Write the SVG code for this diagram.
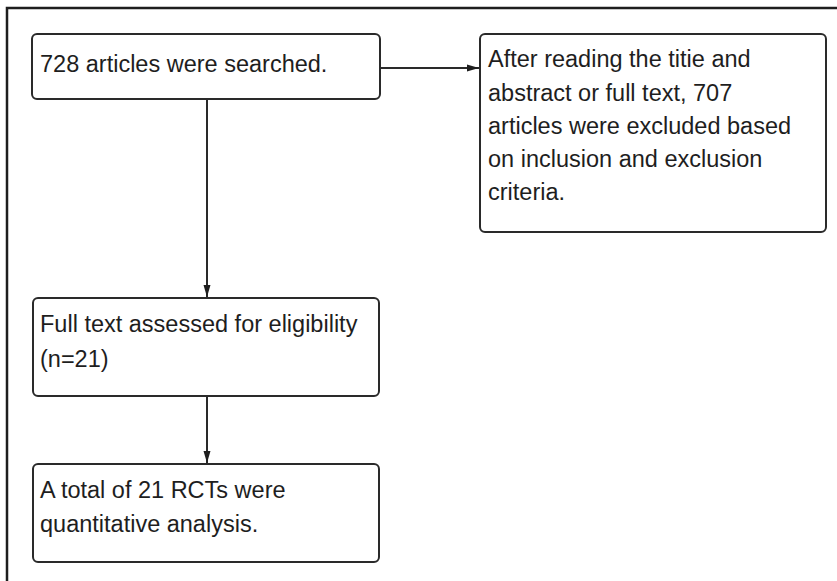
<svg xmlns="http://www.w3.org/2000/svg" width="837" height="581" viewBox="0 0 837 581">
<style>
.box{fill:#fff;stroke:#2a2a2a;stroke-width:2}
.t{font-family:"Liberation Sans",Arial,sans-serif;font-size:23.5px;fill:#1e1e1e}
.c{stroke:#2a2a2a;stroke-width:2;fill:none}
</style>
<defs>
<marker id="ah" viewBox="0 0 12 8" refX="12" refY="4" markerWidth="12" markerHeight="8" markerUnits="userSpaceOnUse" orient="auto">
<path d="M0,0.5 L12,4 L0,7.5 Z" fill="#1e1e1e"/>
</marker>
</defs>
<rect width="837" height="581" fill="#fff"/>
<g id="frame">
<path d="M7,581 L7,8 L837,8" fill="none" stroke="#1e1e1e" stroke-width="2.5"/>
</g>
<g id="connectors">
<line class="c" x1="380" y1="68" x2="479" y2="68" marker-end="url(#ah)"/>
<line class="c" x1="207" y1="99" x2="207" y2="297" marker-end="url(#ah)"/>
<line class="c" x1="207" y1="396" x2="207" y2="463" marker-end="url(#ah)"/>
</g>
<g id="n1">
<rect class="box" x="32" y="34" width="348" height="65" rx="5"/>
<text class="t" x="40" y="72">728 articles were searched.</text>
</g>
<g id="n2">
<rect class="box" x="480" y="34" width="346" height="198" rx="5"/>
<text class="t" x="488" y="67">After reading the titie and</text>
<text class="t" x="488" y="101">abstract or full text, 707</text>
<text class="t" x="488" y="134">articles were excluded based</text>
<text class="t" x="488" y="167">on inclusion and exclusion</text>
<text class="t" x="488" y="200">criteria.</text>
</g>
<g id="n3">
<rect class="box" x="33" y="298" width="346" height="98" rx="5"/>
<text class="t" x="40" y="332">Full text assessed for eligibility</text>
<text class="t" x="40" y="367">(n=21)</text>
</g>
<g id="n4">
<rect class="box" x="33" y="464" width="346" height="98" rx="5"/>
<text class="t" x="40" y="498">A total of 21 RCTs were</text>
<text class="t" x="40" y="532">quantitative analysis.</text>
</g>
</svg>
